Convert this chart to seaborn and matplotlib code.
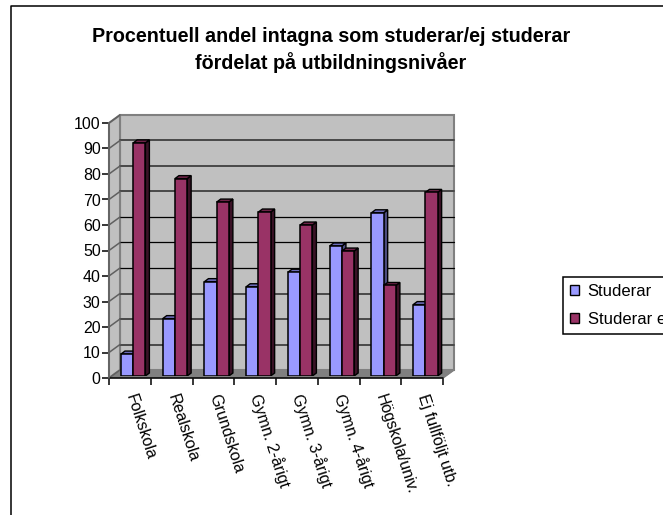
import matplotlib
matplotlib.use("Agg")
import matplotlib.pyplot as plt
from matplotlib.lines import Line2D
from matplotlib.patches import Patch, Polygon
import pandas as pd
import seaborn as sns

categories = ["Folkskola", "Realskola", "Grundskola", "Gymn. 2-årigt", "Gymn. 3-årigt",
              "Gymn. 4-årigt", "Högskola/univ.", "Ej fullföljt utb."]
studerar = [8.6, 22.5, 37, 35, 40.7, 51, 64, 28]
studerar_ej = [91.4, 77.4, 68.2, 64.3, 59.2, 49, 35.5, 72]
yticks = list(range(0, 101, 10))
title = "Procentuell andel intagna som studerar/ej studerar\nfördelat på utbildningsnivåer"

W, H = 663, 515
BLUE, RED = "#9999FF", "#993366"
BLUE_DARK, RED_DARK = "#4C4C80", "#3A1226"
TOP_BLUE, TOP_RED = "#6A6AB8", "#6E2348"

sns.set_theme(style="white")
plt.rcParams["font.family"] = ["Liberation Sans", "DejaVu Sans"]

df = pd.DataFrame({
    "Utbildning": categories * 2,
    "Procent": studerar + studerar_ej,
    "Grupp": ["Studerar"] * 8 + ["Studerar ej"] * 8,
})


def axes_px(left, top, right, bottom):
    return [left / W, 1 - bottom / H, (right - left) / W, (bottom - top) / H]


fig = plt.figure(figsize=(W / 100, H / 100), dpi=100, facecolor="white")

# outer frame, runs off the right and bottom of the picture
fig.add_artist(Line2D([10.5 / W, 10.5 / W, 1], [0, 1 - 6 / H, 1 - 6 / H], color="black", lw=1.1))

# front plane: ticks and labels
ax = fig.add_axes(axes_px(109, 123, 443, 378))
ax.set_facecolor("none")
ax.set_xlim(-0.5, 7.5)
ax.set_ylim(0, 100)
px_x = 334 / 8
px_y = 255 / 100
back_x, back_y = 11 / px_x, 8 / px_y

# walls and floor
x0, x1 = -0.5, 7.5
ax.add_patch(Polygon([(x0 + back_x, back_y), (x1 + back_x, back_y), (x1 + back_x, 100 + back_y), (x0 + back_x, 100 + back_y)],
                     fc="#C0C0C0", ec="#808080", lw=1.5, clip_on=False, zorder=1))
ax.add_patch(Polygon([(x0, 0), (x0 + back_x, back_y), (x0 + back_x, 100 + back_y), (x0, 100)],
                     fc="#C0C0C0", ec="#808080", lw=1.5, clip_on=False, zorder=1))
ax.add_patch(Polygon([(x0, 0), (x1, 0), (x1 + back_x, back_y), (x0 + back_x, back_y)],
                     fc="#808080", ec="#808080", lw=0.5, clip_on=False, zorder=1.1))
for v in yticks[1:-1]:
    # the reference has thin black lines at 40-60 and softer, wider ones elsewhere
    thin = v in (40, 50, 60)
    ax.plot([x0 + back_x, x1 + back_x], [v + back_y, v + back_y], color="black" if thin else "#484848",
            lw=0.9 if thin else 1.4, clip_on=False, zorder=1.2)
for v in yticks:
    ax.plot([x0, x0 + back_x], [v, v + back_y], color="#606060", lw=1.1, clip_on=False, zorder=1.2)
ax.plot([x1, x1 + back_x], [0, back_y], color="#808080", lw=1.1, clip_on=False, zorder=1.2)
ax.plot([x0, x1], [0, 0], color="black", lw=1.1, clip_on=False, zorder=1.3)
ax.plot([x0, x0], [0, 100], color="#606060", lw=1.2, clip_on=False, zorder=1.3)

ax.set_yticks(yticks)
ax.set_xticks([i - 0.5 for i in range(9)])
ax.set_xticklabels([])
ax.tick_params(axis="both", length=5, width=1.1, color="black", direction="out", left=True, bottom=True, pad=2)
ax.tick_params(axis="y", labelsize=11.5, labelcolor="black", pad=1)
sns.despine(ax=ax, left=True, bottom=True, top=True, right=True)
for i, name in enumerate(categories):
    ax.annotate(name, (i, 0), xytext=(0, -12), textcoords="offset points", rotation=-72,
                rotation_mode="anchor", ha="left", va="center", fontsize=11.5, color="black", annotation_clip=False)

# bars stand a little behind the front plane
bar_ax = fig.add_axes(axes_px(112.3, 121, 446.3, 376))
bar_ax.set_facecolor("none")
sns.barplot(data=df, x="Utbildning", y="Procent", hue="Grupp", order=categories, hue_order=["Studerar", "Studerar ej"],
            palette=[BLUE, RED], width=0.585, gap=0, saturation=1, edgecolor="black", linewidth=1.1,
            legend=False, ax=bar_ax)
bar_ax.set_xlim(-0.5, 7.5)
bar_ax.set_ylim(0, 100)
bar_ax.axis("off")

dx, dy = 4 / px_x, 3 / px_y
for n, bar in enumerate(list(bar_ax.patches)):
    is_blue = n < len(categories)
    bar.set_zorder(3 if is_blue else 5)
    xa, xb = bar.get_x(), bar.get_x() + bar.get_width()
    h = bar.get_height()
    side = Polygon([(xb, 0), (xb + dx, dy), (xb + dx, h + dy), (xb, h)],
                   fc=BLUE_DARK if is_blue else RED_DARK, ec="black", lw=1, zorder=2.8 if is_blue else 4.8)
    top = Polygon([(xa, h), (xb, h), (xb + dx, h + dy), (xa + dx, h + dy)],
                  fc=TOP_BLUE if is_blue else TOP_RED, ec="black", lw=1, zorder=2.9 if is_blue else 4.9)
    bar_ax.add_patch(side)
    bar_ax.add_patch(top)

fig.text(331 / W, 1 - 36 / H, title.split("\n")[0], ha="center", va="center", fontsize=14.2, fontweight="bold", color="black")
fig.text(331 / W, 1 - 63 / H, title.split("\n")[1], ha="center", va="center", fontsize=14.2, fontweight="bold", color="black")

handles = [Patch(fc=BLUE, ec="black", lw=1, label="Studerar"), Patch(fc=RED, ec="black", lw=1, label="Studerar ej")]
leg = fig.legend(handles=handles, loc="upper left", bbox_to_anchor=(563 / W, 1 - 277 / H), borderaxespad=0,
                 frameon=True, fancybox=False, edgecolor="black", facecolor="white", framealpha=1,
                 fontsize=12, handlelength=0.55, handleheight=0.55, handletextpad=0.5, labelspacing=0.8,
                 borderpad=0.42, labelcolor="black")
leg.get_frame().set_linewidth(1.1)

fig.savefig("out.png", dpi=100)
